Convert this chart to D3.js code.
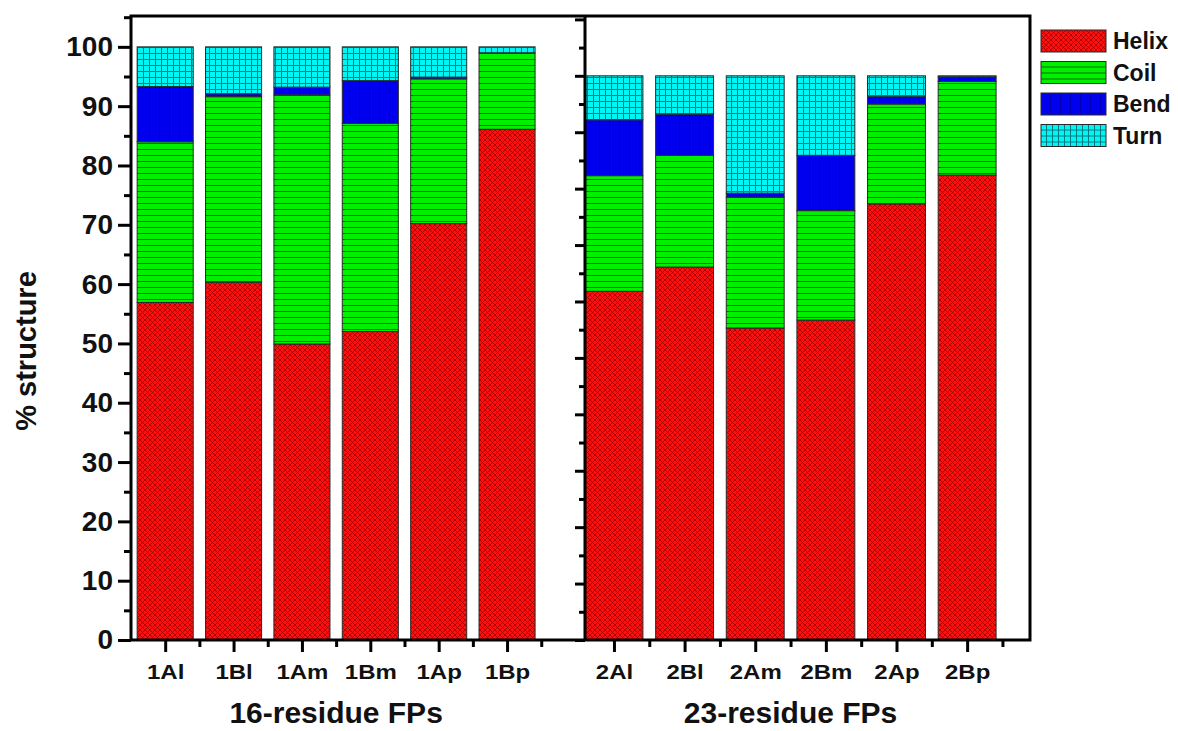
<!DOCTYPE html>
<html lang="en">
<head>
  <meta charset="UTF-8">
  <title>% structure of fusion peptides</title>
  <script src="https://d3js.org/d3.v7.min.js"></script>
  <style>
    body { margin: 0; background: #fff; }
    text { font-family: "Liberation Sans", Arial, sans-serif; font-weight: bold; fill: #111; }
  </style>
</head>
<body>
<svg width="1178" height="731"></svg>

<script>
  // Donnees (% de structure)
  const series = ["Helix", "Coil", "Bend", "Turn"];

  const peptides16 = ["1Al", "1Bl", "1Am", "1Bm", "1Ap", "1Bp"];
  const helix16 = [56.9, 60.3, 49.9, 52.0, 70.2, 86.1];
  const coil16  = [27.1, 31.3, 42.0, 35.1, 24.4, 12.9];
  const bend16  = [ 9.3,  0.5,  1.3,  7.2,  0.3,  0.0];
  const turn16  = [ 6.7,  7.9,  6.8,  5.7,  5.1,  1.0];

  const peptides23 = ["2Al", "2Bl", "2Am", "2Bm", "2Ap", "2Bp"];
  const helix23 = [61.8, 66.1, 55.3, 56.7, 77.3, 82.4];
  const coil23  = [20.5, 19.8, 23.2, 19.4, 17.7, 16.6];
  const bend23  = [ 9.9,  7.3,  0.7,  9.8,  1.3,  0.8];
  const turn23  = [ 7.8,  6.8, 20.8, 14.1,  3.7,  0.2];

  const yTicks = [0, 10, 20, 30, 40, 50, 60, 70, 80, 90, 100];

  const svg = d3.select("svg");
  const plotTop = 16, plotBottom = 640, plotLeft = 131, plotMid = 585, plotRight = 1030;

  // Motifs de remplissage
  const defs = svg.append("defs");
  function pattern(id, w, h, bg, draw) {
    const p = defs.append("pattern").attr("id", id)
      .attr("patternUnits", "userSpaceOnUse").attr("width", w).attr("height", h);
    p.append("rect").attr("width", w).attr("height", h).attr("fill", bg);
    draw(p);
  }
  pattern("p-helix", 5, 5, "#ff1010", p => {
    p.append("path").attr("d", "M0,0L5,5M5,0L0,5").attr("stroke", "#a80000").attr("stroke-width", 0.9);
  });
  pattern("p-coil", 6, 6, "#00f000", p => {
    p.append("line").attr("x1", 0).attr("x2", 6).attr("y1", 5.5).attr("y2", 5.5)
      .attr("stroke", "#007000").attr("stroke-width", 1);
  });
  pattern("p-bend", 10, 10, "#0000ee", p => {
    p.append("line").attr("x1", 9.5).attr("x2", 9.5).attr("y1", 0).attr("y2", 10)
      .attr("stroke", "#0000b0").attr("stroke-width", 1);
  });
  pattern("p-turn", 6, 6, "#00f5f5", p => {
    p.append("path").attr("d", "M0,5.5H6M5.5,0V6").attr("stroke", "#007a80").attr("stroke-width", 1);
  });
  const fill = d3.scaleOrdinal().domain(series)
    .range(["url(#p-helix)", "url(#p-coil)", "url(#p-bend)", "url(#p-turn)"]);

  // Echelles des deux panneaux
  const xL = d3.scaleLinear().domain([0.5, 7.14]).range([plotLeft, plotMid]);
  const xR = d3.scaleLinear().domain([0.59, 6.89]).range([plotMid, plotRight]);
  const yL = d3.scaleLinear().domain([0, 105.2]).range([plotBottom, plotTop]);
  const yR = d3.scaleLinear().domain([0, 110.6]).range([plotBottom, plotTop]);
  const barW = 0.82;

  function drawPanel(names, values, x, y, title) {
    const rows = names.map((n, i) => {
      const r = { name: n, idx: i + 1 };
      series.forEach((s, k) => r[s] = values[k][i]);
      return r;
    });
    const stacked = d3.stack().keys(series)(rows);
    svg.append("g").selectAll("g")
      .data(stacked)
      .join("g")
        .attr("fill", d => fill(d.key))
      .selectAll("rect")
      .data(d => d.filter(v => v[1] - v[0] > 0))
      .join("rect")
        .attr("x", d => x(d.data.idx - barW / 2))
        .attr("width", d => x(barW) - x(0))
        .attr("y", d => y(d[1]))
        .attr("height", d => y(d[0]) - y(d[1]))
        .attr("stroke", "#2a2a2a")
        .attr("stroke-width", 1);

    // Axe du bas : graduations majeures + mineures
    const ax = svg.append("g").attr("transform", `translate(0,${plotBottom})`);
    ax.call(d3.axisBottom(x).tickValues(d3.range(1, 7)).tickFormat((d, i) => names[i])
      .tickSize(12).tickPadding(13));
    ax.append("g").call(d3.axisBottom(x).tickValues(d3.range(1.5, 7, 1)).tickFormat("").tickSize(7));
    ax.selectAll(".domain").remove();
    ax.selectAll("line").attr("stroke", "#000").attr("stroke-width", 3);
    ax.selectAll("text").style("font-size", "20px").attr("fill", "#111")
      .attr("transform", "scale(1.2,1)");

    // Titre du panneau, centre sous les barres
    svg.append("text").attr("x", x(3.5)).attr("y", 723).attr("text-anchor", "middle")
      .style("font-size", "30px").text(title);
  }

  drawPanel(peptides16, [helix16, coil16, bend16, turn16], xL, yL, "16-residue FPs");
  drawPanel(peptides23, [helix23, coil23, bend23, turn23], xR, yR, "23-residue FPs");

  // Axe Y gauche avec etiquettes
  const gy = svg.append("g").attr("transform", `translate(${plotLeft},0)`);
  gy.call(d3.axisLeft(yL).tickValues(yTicks).tickSize(13).tickPadding(5));
  gy.append("g").call(d3.axisLeft(yL).tickValues(d3.range(5, 106, 10)).tickFormat("").tickSize(7));
  gy.selectAll(".domain").remove();
  gy.selectAll("line").attr("stroke", "#000").attr("stroke-width", 3);
  gy.selectAll("text").style("font-size", "28px");

  // Axe Y du second panneau (sur le separateur, sans etiquettes)
  const gy2 = svg.append("g").attr("transform", `translate(${plotMid},0)`);
  gy2.call(d3.axisLeft(yR).tickValues(d3.range(0, 111, 10)).tickFormat("").tickSize(10));
  gy2.append("g").call(d3.axisLeft(yR).tickValues(d3.range(5, 111, 10)).tickFormat("").tickSize(6));
  gy2.selectAll(".domain").remove();
  gy2.selectAll("line").attr("stroke", "#000").attr("stroke-width", 3);

  // Cadre et separateur
  svg.append("rect").attr("x", plotLeft).attr("y", plotTop)
    .attr("width", plotRight - plotLeft).attr("height", plotBottom - plotTop)
    .attr("fill", "none").attr("stroke", "#000").attr("stroke-width", 3);
  svg.append("line").attr("x1", plotMid).attr("x2", plotMid).attr("y1", plotTop).attr("y2", plotBottom)
    .attr("stroke", "#000").attr("stroke-width", 3);

  // Titre de l'axe Y
  svg.append("text").attr("transform", "translate(36,351) rotate(-90)")
    .attr("text-anchor", "middle").style("font-size", "29px").text("% structure");

  // Legende
  const legend = svg.append("g").attr("transform", "translate(1041,30)");
  series.forEach((s, i) => {
    const row = legend.append("g").attr("transform", `translate(0,${i * 31.5})`);
    row.append("rect").attr("width", 65).attr("height", 22)
      .attr("fill", fill(s)).attr("stroke", "#2a2a2a").attr("stroke-width", 1);
    row.append("text").attr("x", 72).attr("y", 19).style("font-size", "23px").text(s);
  });
</script>

</body>
</html>
